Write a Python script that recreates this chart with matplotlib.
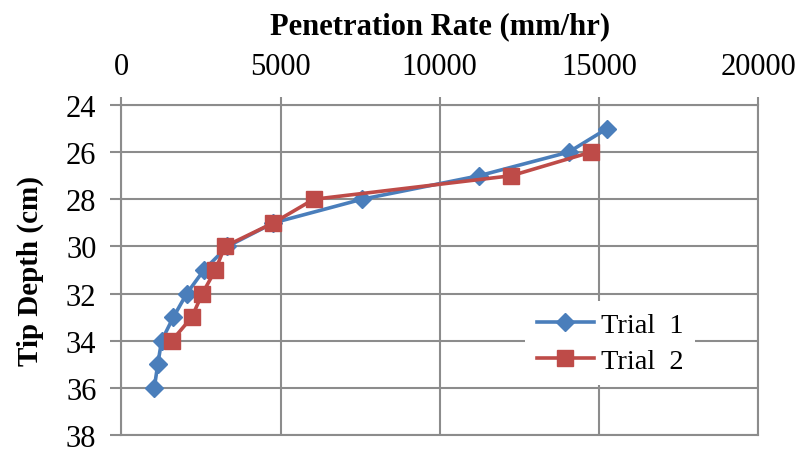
import matplotlib
matplotlib.use("Agg")
import matplotlib.pyplot as plt

depth1 = [25, 26, 27, 28, 29, 30, 31, 32, 33, 34, 35, 36]
rate1 = [15260, 14050, 11240, 7550, 4775, 3330, 2590, 2050, 1630, 1260, 1140, 1030]

depth2 = [26, 27, 28, 29, 30, 31, 32, 33, 34]
rate2 = [14750, 12250, 6040, 4775, 3250, 2950, 2540, 2210, 1580]

plt.rcParams['font.family'] = ['Liberation Serif', 'DejaVu Serif']
grid_col = '#8c8c8c'

fig = plt.figure(figsize=(8.04, 4.52), dpi=100)
ax = fig.add_axes([121.5 / 804, 1 - 436 / 452, (758 - 121.5) / 804, (436 - 106) / 452])

ax.plot(rate1, depth1, color='#4A7EBB', lw=2.6, marker='D', markersize=9.5, label='Trial  1')
ax.plot(rate2, depth2, color='#BE4B48', lw=2.6, marker='s', markersize=11, label='Trial  2')

ax.set_xlim(0, 20000)
ax.set_ylim(38, 24)
ax.set_xticks(range(0, 20001, 5000))
ax.set_yticks(range(24, 39, 2))
ax.xaxis.tick_top()
ax.xaxis.set_label_position('top')
ax.tick_params(axis='both', labelsize=22, color=grid_col, width=1.5)
ax.tick_params(axis='x', length=6, pad=11)
ax.tick_params(axis='y', length=8, pad=10)
ax.grid(True, color=grid_col, lw=1.5)
ax.set_axisbelow(True)
for s in ax.spines.values():
    s.set_color(grid_col)
    s.set_linewidth(1.5)

ax.set_xlabel('Penetration Rate (mm/hr)', fontsize=22, fontweight='bold', labelpad=14)
ax.set_ylabel('Tip Depth (cm)', fontsize=21, fontweight='bold', labelpad=16)

leg = ax.legend(loc='upper left', bbox_to_anchor=(0.612, 0.45), fontsize=20.5, frameon=True,
                fancybox=False, edgecolor='none', facecolor='white', framealpha=1,
                handlelength=2.0, handletextpad=0.25, labelspacing=0.35, borderpad=0.4)

fig.savefig('out.png', dpi=100)
